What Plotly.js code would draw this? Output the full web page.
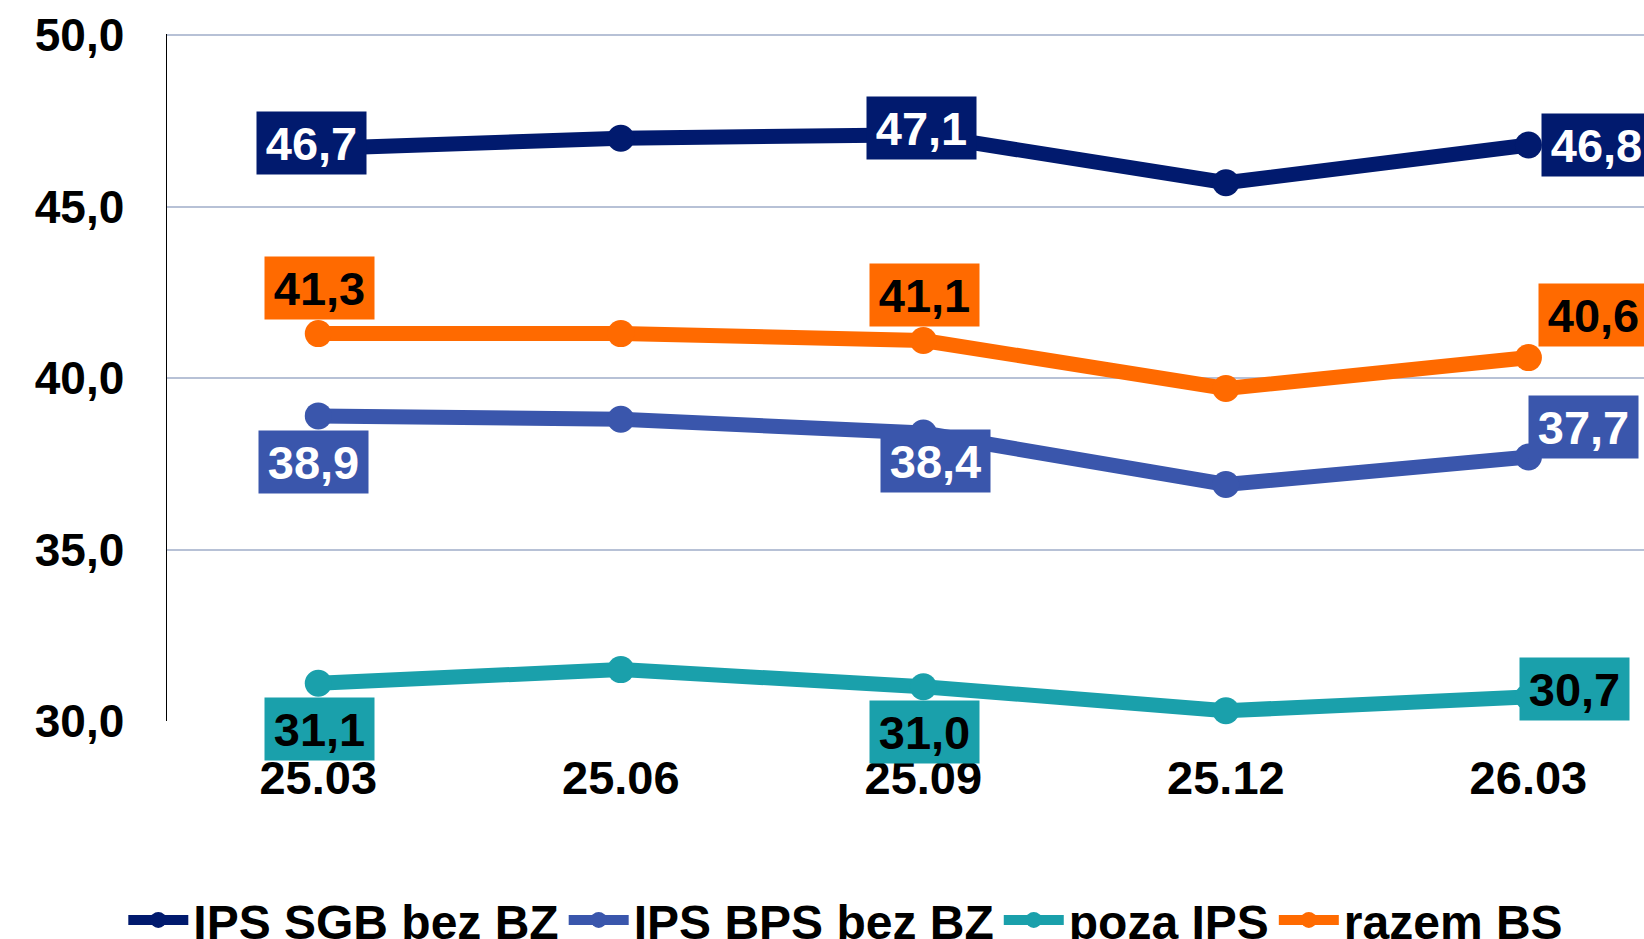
<!DOCTYPE html>
<html>
<head>
<meta charset="utf-8">
<script src="https://cdn.plot.ly/plotly-3.0.1.min.js"></script>
<style>
  html, body { margin: 0; padding: 0; background: #ffffff; }
  #chart { width: 1644px; height: 939px; }
</style>
</head>
<body>
<div id="chart"></div>
<script>
// ---- data ----
const categories = ["25.03", "25.06", "25.09", "25.12", "26.03"];
const seriesNames = ["IPS SGB bez BZ", "IPS BPS bez BZ", "poza IPS", "razem BS"];
const ipsSgb   = [46.7, 47.0, 47.1, 45.7, 46.8];
const ipsBps   = [38.9, 38.8, 38.4, 36.9, 37.7];
const pozaIps  = [31.1, 31.5, 31.0, 30.3, 30.7];
const razemBs  = [41.3, 41.3, 41.1, 39.7, 40.6];
const labeledIdx = [0, 2, 4];
const yTickVals = [30, 35, 40, 45, 50];

// ---- styles ----
const colors = ["#011A6E", "#3A56AC", "#1AA0AB", "#FF6A00"];
const labelTextColors = ["#ffffff", "#ffffff", "#000000", "#000000"];
// pixel offsets of label boxes relative to their point [xshift, yshift] for indices 0,2,4
const labelOffsets = [
  [[-7, 6], [-2, 7], [68, 0]],
  [[-5, -46], [12, -28], [55, 30]],
  [[1, -46], [1, -45], [46, 8]],
  [[1, 46], [1, 45], [65, 43]]
];

const allSeries = [ipsSgb, ipsBps, pozaIps, razemBs];
const FONT = "Arial, 'Liberation Sans', sans-serif";

const traces = allSeries.map((vals, i) => ({
  type: "scatter",
  mode: "lines+markers",
  name: seriesNames[i],
  x: categories,
  y: vals,
  line: { color: colors[i], width: 15 },
  marker: { color: colors[i], size: 27 },
  cliponaxis: false,
  hoverinfo: "skip"
}));

const annotations = [];
allSeries.forEach((vals, i) => {
  labeledIdx.forEach((idx, k) => {
    annotations.push({
      xref: "x", yref: "y",
      x: idx, y: vals[idx],
      text: vals[idx].toFixed(1).replace(".", ","),
      showarrow: false,
      xanchor: "center", yanchor: "middle",
      xshift: labelOffsets[i][k][0],
      yshift: labelOffsets[i][k][1],
      bgcolor: colors[i],
      borderpad: 3,
      width: 103,
      height: 56,
      font: { family: FONT, size: 47, color: labelTextColors[i] }
    });
  });
});

const layout = {
  width: 1644,
  height: 939,
  margin: { l: 167, r: 0, t: 34, b: 218, pad: 0 },
  paper_bgcolor: "#ffffff",
  plot_bgcolor: "#ffffff",
  separators: ", ",
  font: { family: FONT, size: 46, color: "#000000", weight: "bold" },
  showlegend: true,
  legend: {
    orientation: "h",
    xref: "container", yref: "container",
    x: 0.075, xanchor: "left",
    y: 0.02, yanchor: "middle",
    font: { family: FONT, size: 48, color: "#000000", weight: "bold" },
    itemwidth: 60,
    tracegroupgap: 0,
    bgcolor: "rgba(0,0,0,0)"
  },
  xaxis: {
    type: "category",
    categoryorder: "array",
    categoryarray: categories,
    range: [-0.5, 4.382],
    showgrid: false,
    zeroline: false,
    showline: false,
    ticks: "",
    ticklabelstandoff: 25,
    tickfont: { family: FONT, size: 47, color: "#000000", weight: "bold" }
  },
  yaxis: {
    range: [30, 50.04],
    tickvals: yTickVals,
    tickformat: ".1f",
    showgrid: true,
    gridcolor: "#B7C1D6",
    gridwidth: 2,
    zeroline: false,
    showline: true,
    linecolor: "#000000",
    linewidth: 1.5,
    ticks: "",
    ticklabelstandoff: 32,
    tickfont: { family: FONT, size: 46, color: "#000000", weight: "bold" }
  },
  annotations: annotations
};

Plotly.newPlot("chart", traces, layout, { staticPlot: true, displayModeBar: false });
</script>
</body>
</html>
